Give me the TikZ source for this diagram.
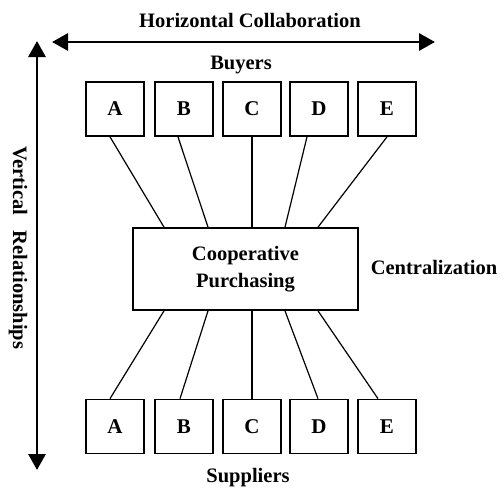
\documentclass[tikz,border=0pt]{standalone}
\usepackage{fontspec}
\setmainfont{Liberation Serif}
\usetikzlibrary{arrows.meta}
\begin{document}
\begin{tikzpicture}[x=1pt,y=-1pt,
  lbl/.style={font=\fontsize{20.5}{26}\selectfont\bfseries, inner sep=0pt},
  party/.style={draw, line width=1.7pt, minimum width=58pt, minimum height=54pt,
                inner sep=0pt, font=\fontsize{21}{26}\selectfont\bfseries},
  hub/.style={draw, line width=1.7pt, minimum width=225pt, minimum height=82pt,
              inner sep=0pt, align=center, font=\fontsize{20.5}{27}\selectfont\bfseries},
  link/.style={line width=1.2pt},
  bigarrow/.style={line width=2.9pt, {Triangle[length=16pt,width=17pt]}-{Triangle[length=16pt,width=17pt]}}]
\useasboundingbox (0,0) rectangle (504,490);

% axis arrows
\coordinate (hL) at (52,42);
\coordinate (hR) at (435,42);
\coordinate (vT) at (37,41);
\coordinate (vB) at (37,470);
\draw[bigarrow] (hL) -- (hR);
\draw[bigarrow] (vT) -- (vB);

% labels
\node[lbl] (horiz) at (250,20) {Horizontal Collaboration};
\node[lbl] (buyers) at (241,65) {Buyers};
\node[lbl] (suppliers) at (248,478) {Suppliers};
\node[lbl] (central) at (434,267) {Centralization};
\node[lbl, rotate=-90] (vert) at (18,248) {Vertical\ \ \ Relationships};

% buyers row
\node[party] (tA) at (115,109) {A};
\node[party] (tB) at (184,109) {B};
\node[party] (tC) at (252,109) {C};
\node[party] (tD) at (319,109) {D};
\node[party] (tE) at (387,109) {E};

% cooperative purchasing hub
\node[hub] (cp) at (245.5,269) {Cooperative\\Purchasing};

% suppliers row
\node[party] (bA) at (115,426.5) {A};
\node[party] (bB) at (184,426.5) {B};
\node[party] (bC) at (252,426.5) {C};
\node[party] (bD) at (319,426.5) {D};
\node[party] (bE) at (387,426.5) {E};

% buyer links
\draw[link] ([xshift=-5pt]tA.south) -- ([xshift=-81.5pt]cp.north);
\draw[link] ([xshift=-6pt]tB.south) -- ([xshift=-37.5pt]cp.north);
\draw[link] (tC.south) -- ([xshift=6.5pt]cp.north);
\draw[link] ([xshift=-12pt]tD.south) -- ([xshift=39.5pt]cp.north);
\draw[link] (tE.south) -- ([xshift=72.5pt]cp.north);

% supplier links
\draw[link] ([xshift=-81.5pt]cp.south) -- ([xshift=-5pt]bA.north);
\draw[link] ([xshift=-37.5pt]cp.south) -- ([xshift=-4pt]bB.north);
\draw[link] ([xshift=6.5pt]cp.south) -- (bC.north);
\draw[link] ([xshift=39.5pt]cp.south) -- ([xshift=-1pt]bD.north);
\draw[link] ([xshift=72.5pt]cp.south) -- ([xshift=-9pt]bE.north);
\end{tikzpicture}
\end{document}
